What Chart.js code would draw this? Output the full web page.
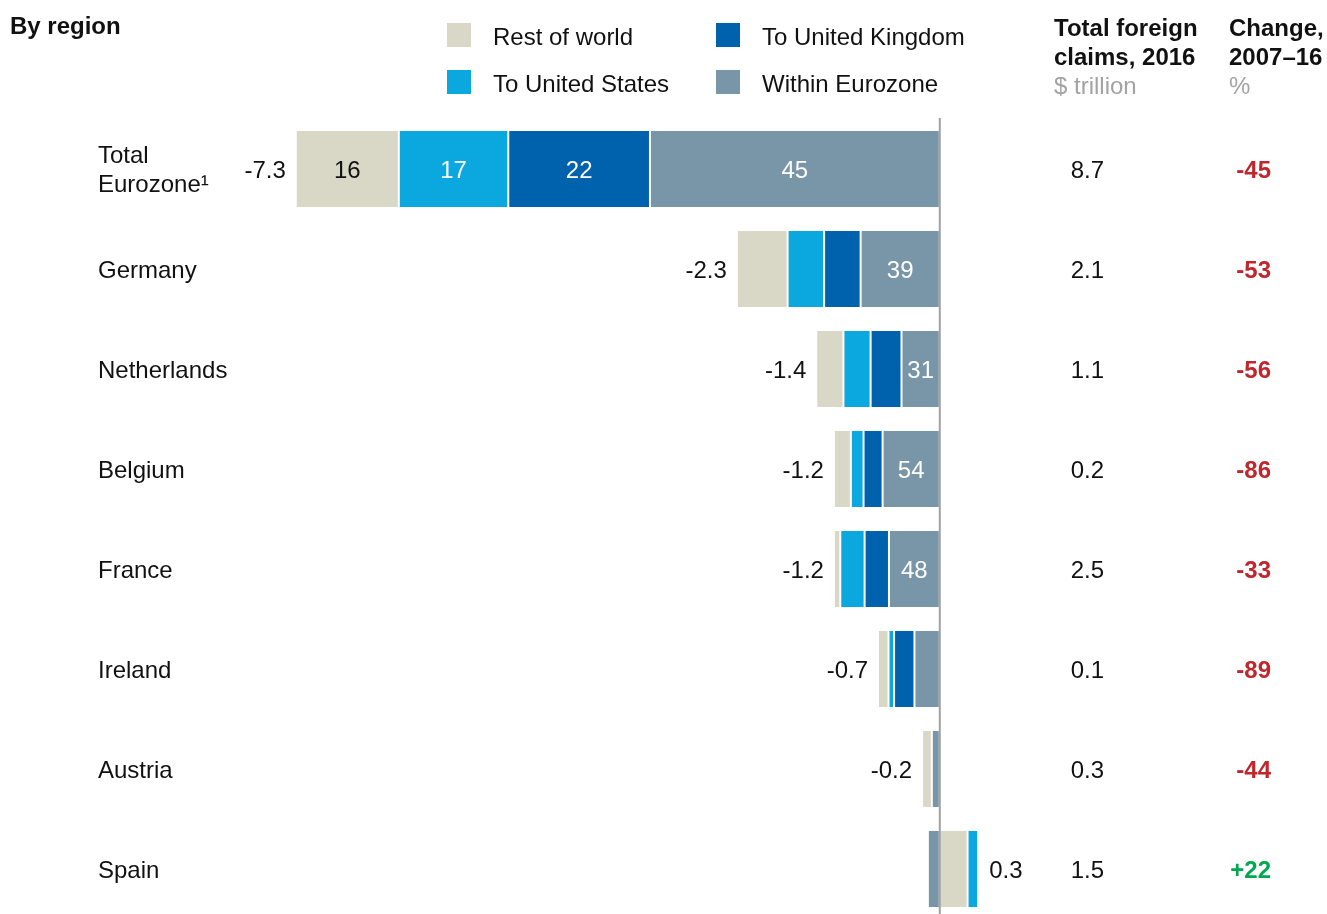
<!DOCTYPE html>
<html>
<head>
<meta charset="utf-8">
<script src="https://cdn.jsdelivr.net/npm/chart.js@4.4.1/dist/chart.umd.min.js"></script>
<style>
  body { margin: 0; width: 1327px; height: 914px; overflow: hidden; background: #fff;
         font-family: "Liberation Sans", Arial, sans-serif; color: #111; }
  #wrap { position: absolute; left: 0; top: 0; width: 1327px; height: 920px; }
  .txt { position: absolute; font-size: 24px; line-height: 29px; white-space: nowrap; }
  .b { font-weight: bold; }
  .unit { color: #a3a3a3; font-weight: normal; }
  .key { position: absolute; width: 24px; height: 24px; }
</style>
</head>
<body>
<div id="wrap"><canvas id="chart"></canvas></div>
<div class="txt b" style="left:10px;top:11px">By region</div>
<div id="legend"></div>
<div class="txt b" style="left:1054px;top:13px">Total foreign<br>claims, 2016<br><span class="unit">$ trillion</span></div>
<div class="txt b" style="left:1229px;top:13px">Change,<br>2007–16<br><span class="unit">%</span></div>

<script>
// rows, top to bottom
const regions = [['Total', 'Eurozone¹'], ['Germany'], ['Netherlands'], ['Belgium'], ['France'], ['Ireland'], ['Austria'], ['Spain']];
// change in foreign claims, $ trillion
const netChange = [-7.3, -2.3, -1.4, -1.2, -1.2, -0.7, -0.2, 0.3];

// share of each row's change by destination, %
const seriesNames = ['Rest of world', 'To United States', 'To United Kingdom', 'Within Eurozone'];
const restOfWorld    = [16, 25, 22, 16,  6, 17, 55, 105];
const toUS           = [17, 18, 22, 12, 23,  9,  0,  40];
const toUK           = [22, 18, 25, 18, 23, 33,  0,   0];
const withinEurozone = [45, 39, 31, 54, 48, 41, 45, -45];

// right hand columns
const claims2016 = [8.7, 2.1, 1.1, 0.2, 2.5, 0.1, 0.3, 1.5];
const change0716 = [-45, -53, -56, -86, -33, -89, -44, 22];

const seriesColors = ['#d9d8c6', '#0ba8e0', '#0061ac', '#7896a7'];
const FONT = '"Liberation Sans", Arial, sans-serif';

// legend, 2 x 2 filled column by column
const legendBox = document.getElementById('legend');
seriesNames.forEach((name, k) => {
  const left = k < 2 ? 447 : 716;
  const top = k % 2 === 0 ? 23 : 70;
  legendBox.insertAdjacentHTML('beforeend',
    `<div class="key" style="left:${left}px;top:${top}px;background:${seriesColors[k]}"></div>` +
    `<div class="txt" style="left:${left + 46}px;top:${top - 1}px">${name}</div>`);
});

// turn shares into floating pieces, kept in legend order left to right:
// negative pieces end at zero, positive ones start there
const shares = [restOfWorld, toUS, toUK, withinEurozone];
const segments = shares.map(() => []);
netChange.forEach((net, i) => {
  const vals = shares.map(s => net * s[i] / 100);
  let neg = vals.reduce((a, v) => v < 0 ? a + v : a, 0);
  let pos = 0;
  vals.forEach((v, k) => {
    if (v === 0) { segments[k].push(null); }
    else if (v < 0) { segments[k].push([neg, neg - v]); neg -= v; }
    else { segments[k].push([pos, pos + v]); pos += v; }
  });
});

// which pieces carry their share as a label
const labelled = (k, i) => i === 0 || (k === 3 && i < 5);

const annotate = {
  id: 'annotate',
  afterDatasetsDraw(chart) {
    const { ctx, chartArea, scales: { x, y } } = chart;
    const zero = x.getPixelForValue(0);
    ctx.save();

    ctx.strokeStyle = '#a0a0a0';
    ctx.lineWidth = 2;
    ctx.beginPath();
    ctx.moveTo(zero, chartArea.top - 1);
    ctx.lineTo(zero, chartArea.bottom);
    ctx.stroke();

    ctx.textBaseline = 'middle';
    regions.forEach((lines, i) => {
      const yc = y.getPixelForValue(i) + 2;
      ctx.font = '24px ' + FONT;

      // row name
      ctx.fillStyle = '#111';
      ctx.textAlign = 'left';
      lines.forEach((line, j) => {
        ctx.fillText(line, 98, yc + (j - (lines.length - 1) / 2) * 29);
      });

      // shares inside the bars
      ctx.textAlign = 'center';
      shares.forEach((s, k) => {
        const bar = chart.getDatasetMeta(k).data[i];
        if (!bar || !labelled(k, i)) return;
        ctx.fillStyle = k === 0 ? '#111' : '#fff';
        ctx.fillText(s[i], (bar.x + bar.base) / 2, yc);
      });

      // net change at the end of the bar
      const vals = shares.map(s => netChange[i] * s[i] / 100);
      ctx.fillStyle = '#111';
      if (netChange[i] < 0) {
        const end = vals.reduce((a, v) => v < 0 ? a + v : a, 0);
        ctx.textAlign = 'right';
        ctx.fillText(netChange[i].toFixed(1), x.getPixelForValue(end) - 10, yc);
      } else {
        const end = vals.reduce((a, v) => v > 0 ? a + v : a, 0);
        ctx.textAlign = 'left';
        ctx.fillText(netChange[i].toFixed(1), x.getPixelForValue(end) + 11, yc);
      }

      // claims and change columns
      ctx.textAlign = 'right';
      ctx.fillText(claims2016[i].toFixed(1), 1104, yc);
      ctx.font = 'bold 24px ' + FONT;
      ctx.fillStyle = change0716[i] < 0 ? '#c0272d' : '#00a84f';
      ctx.fillText((change0716[i] > 0 ? '+' : '') + change0716[i], 1271, yc);
    });
    ctx.restore();
  }
};

new Chart(document.getElementById('chart'), {
  type: 'bar',
  data: {
    labels: regions.map(r => r.join(' ')),
    datasets: seriesNames.map((name, k) => ({
      label: name,
      data: segments[k],
      backgroundColor: seriesColors[k],
      borderColor: '#fff',
      borderWidth: { left: 1, right: 1, top: 0, bottom: 0 },
      borderSkipped: false,
      grouped: false,
      barPercentage: 0.76,
      categoryPercentage: 1
    }))
  },
  options: {
    indexAxis: 'y',
    responsive: true,
    maintainAspectRatio: false,
    animation: false,
    layout: { padding: { left: 234, right: 299, top: 119, bottom: 1 } },
    plugins: { legend: { display: false }, tooltip: { enabled: false } },
    scales: {
      x: { display: false, min: -8, max: 1 },
      y: { display: false }
    }
  },
  plugins: [annotate]
});
</script>
</body>
</html>
